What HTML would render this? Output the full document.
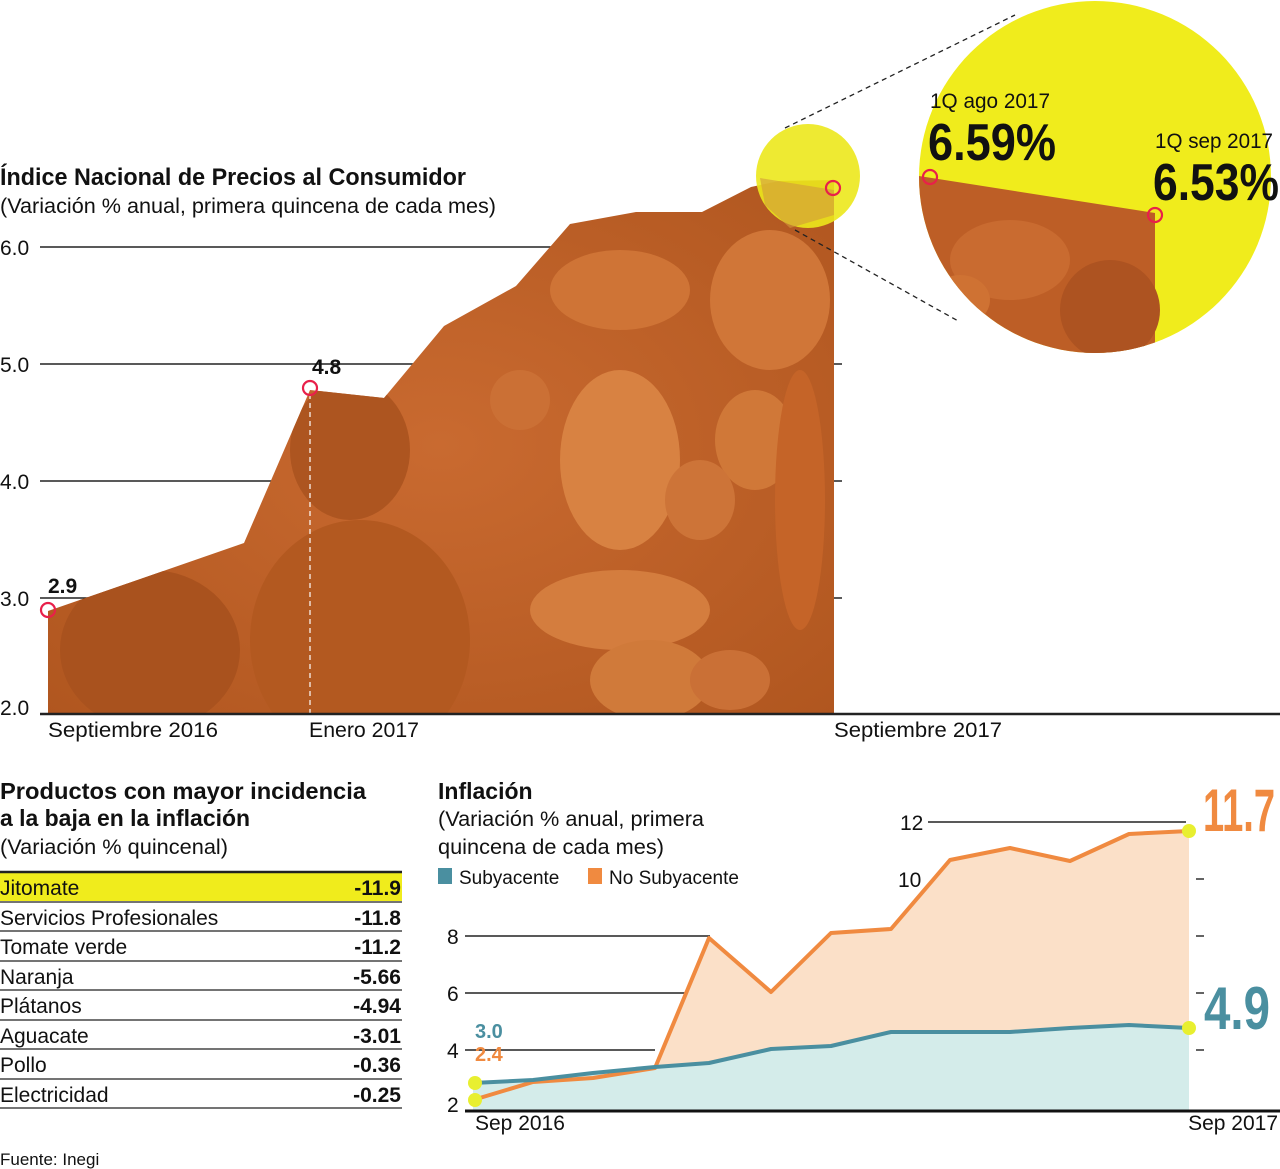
<!DOCTYPE html>
<html><head><meta charset="utf-8"><style>
html,body{margin:0;padding:0;background:#fff;}
svg{display:block;}
text{font-family:"Liberation Sans Narrow","Liberation Sans",sans-serif;fill:#111;}
</style></head><body>
<svg width="1280" height="1169" viewBox="0 0 1280 1169" xmlns="http://www.w3.org/2000/svg">
<defs>
<clipPath id="shape"><polygon points="48,611 244,543 310,390 384,398 444,326 516,286 570,224 636,212 702,212 751,187 779,181 834,180 834,714 48,714"/></clipPath>
<clipPath id="big"><circle cx="1095" cy="177" r="176"/></clipPath>
<radialGradient id="og" cx="0.5" cy="0.5" r="0.7"><stop offset="0" stop-color="#c96a30"/><stop offset="1" stop-color="#b0561f"/></radialGradient>
</defs>
<text x="0" y="185" font-size="24" font-weight="bold" textLength="466" lengthAdjust="spacingAndGlyphs">Índice Nacional de Precios al Consumidor</text>
<text x="0" y="213" font-size="21" textLength="496" lengthAdjust="spacingAndGlyphs">(Variación % anual, primera quincena de cada mes)</text>
<g stroke="#222" stroke-width="1.5">
<line x1="40" y1="247" x2="600" y2="247"/>
<line x1="40" y1="364" x2="420" y2="364"/>
<line x1="40" y1="481" x2="300" y2="481"/>
<line x1="40" y1="598" x2="90" y2="598"/>
<line x1="834" y1="364" x2="842" y2="364"/>
<line x1="834" y1="481" x2="842" y2="481"/>
<line x1="834" y1="598" x2="842" y2="598"/>
</g>
<g clip-path="url(#shape)">
<rect x="40" y="170" width="800" height="550" fill="url(#og)"/>
<ellipse cx="360" cy="640" rx="110" ry="120" fill="#b35920"/>
<ellipse cx="150" cy="650" rx="90" ry="80" fill="#a9521e"/>
<ellipse cx="350" cy="450" rx="60" ry="70" fill="#ad5520"/>
<ellipse cx="620" cy="290" rx="70" ry="40" fill="#cf7436"/>
<ellipse cx="770" cy="300" rx="60" ry="70" fill="#d07638"/>
<ellipse cx="620" cy="460" rx="60" ry="90" fill="#d88242"/>
<ellipse cx="620" cy="610" rx="90" ry="40" fill="#d47d3e"/>
<ellipse cx="755" cy="440" rx="40" ry="50" fill="#d07838"/>
<ellipse cx="700" cy="500" rx="35" ry="40" fill="#cd7438"/>
<ellipse cx="650" cy="680" rx="60" ry="40" fill="#d07a3a"/>
<ellipse cx="730" cy="680" rx="40" ry="30" fill="#ca7036"/>
<ellipse cx="800" cy="500" rx="25" ry="130" fill="#c56428"/>
<ellipse cx="520" cy="400" rx="30" ry="30" fill="#cb7035"/>
</g>
<line x1="310" y1="394" x2="310" y2="714" stroke="#fff" stroke-width="1.2" stroke-dasharray="5,4"/>
<line x1="40" y1="714" x2="1280" y2="714" stroke="#222" stroke-width="2.5"/>
<g font-size="21">
<text x="0" y="255">6.0</text><text x="0" y="372">5.0</text><text x="0" y="489">4.0</text><text x="0" y="606">3.0</text><text x="0" y="715">2.0</text>
</g>
<text x="48" y="737" font-size="21" textLength="170" lengthAdjust="spacingAndGlyphs">Septiembre 2016</text>
<text x="309" y="737" font-size="21" textLength="110" lengthAdjust="spacingAndGlyphs">Enero 2017</text>
<text x="834" y="737" font-size="21" textLength="168" lengthAdjust="spacingAndGlyphs">Septiembre 2017</text>
<text x="48" y="593" font-size="21" font-weight="bold">2.9</text>
<text x="312" y="374" font-size="21" font-weight="bold">4.8</text>
<circle cx="808" cy="176" r="52" fill="#ece81c" opacity="0.9"/>
<polygon points="760,178 834,190 834,215 790,228 765,205" fill="#d29a3a" opacity="0.6"/>
<line x1="785" y1="128" x2="1015" y2="15" stroke="#222" stroke-width="1.3" stroke-dasharray="5,4"/>
<line x1="795" y1="230" x2="960" y2="322" stroke="#222" stroke-width="1.3" stroke-dasharray="5,4"/>
<circle cx="1095" cy="177" r="176" fill="#f0ec1c"/>
<g clip-path="url(#big)">
<polygon points="900,173 1155,213 1155,360 880,360" fill="#bd5e26"/>
<ellipse cx="1010" cy="260" rx="60" ry="40" fill="#c96b30"/>
<ellipse cx="1110" cy="310" rx="50" ry="50" fill="#ad5321"/>
<ellipse cx="960" cy="300" rx="30" ry="25" fill="#cf7233"/>
</g>
<text x="930" y="108" font-size="21" textLength="120" lengthAdjust="spacingAndGlyphs">1Q ago 2017</text>
<text x="928" y="160" font-size="52" font-weight="bold" textLength="128" lengthAdjust="spacingAndGlyphs">6.59%</text>
<text x="1155" y="148" font-size="21" textLength="118" lengthAdjust="spacingAndGlyphs">1Q sep 2017</text>
<text x="1153" y="200" font-size="52" font-weight="bold" textLength="126" lengthAdjust="spacingAndGlyphs">6.53%</text>
<g fill="none" stroke="#e8204a" stroke-width="2.2">
<circle cx="48" cy="610" r="7"/><circle cx="310" cy="388" r="7"/><circle cx="833" cy="188" r="7"/>
<circle cx="930" cy="177" r="7"/><circle cx="1155" cy="215" r="7"/>
</g>
<text x="0" y="799" font-size="23" font-weight="bold" textLength="366" lengthAdjust="spacingAndGlyphs">Productos con mayor incidencia</text>
<text x="0" y="826" font-size="23" font-weight="bold" textLength="250" lengthAdjust="spacingAndGlyphs">a la baja en la inflación</text>
<text x="0" y="854" font-size="21" textLength="228" lengthAdjust="spacingAndGlyphs">(Variación % quincenal)</text>
<rect x="0" y="873" width="402" height="28" fill="#f0ec1c"/>
<g stroke="#222" stroke-width="1.3">
<line x1="0" y1="872" x2="402" y2="872" stroke-width="2.5"/>
<line x1="0" y1="902" x2="402" y2="902"/><line x1="0" y1="931" x2="402" y2="931"/>
<line x1="0" y1="961" x2="402" y2="961"/><line x1="0" y1="990" x2="402" y2="990"/>
<line x1="0" y1="1020" x2="402" y2="1020"/><line x1="0" y1="1049" x2="402" y2="1049"/>
<line x1="0" y1="1079" x2="402" y2="1079"/><line x1="0" y1="1108" x2="402" y2="1108"/>
</g>
<g font-size="21">
<text x="0" y="895">Jitomate</text><text x="0" y="925">Servicios Profesionales</text>
<text x="0" y="954">Tomate verde</text><text x="0" y="984">Naranja</text>
<text x="0" y="1013">Plátanos</text><text x="0" y="1043">Aguacate</text>
<text x="0" y="1072">Pollo</text><text x="0" y="1102">Electricidad</text>
</g>
<g font-size="21" font-weight="bold" text-anchor="end">
<text x="401" y="895">-11.9</text><text x="401" y="925">-11.8</text><text x="401" y="954">-11.2</text>
<text x="401" y="984">-5.66</text><text x="401" y="1013">-4.94</text><text x="401" y="1043">-3.01</text>
<text x="401" y="1072">-0.36</text><text x="401" y="1102">-0.25</text>
</g>
<text x="0" y="1165" font-size="17">Fuente: Inegi</text>
<text x="438" y="799" font-size="23" font-weight="bold">Inflación</text>
<text x="438" y="826" font-size="21" textLength="266" lengthAdjust="spacingAndGlyphs">(Variación % anual, primera</text>
<text x="438" y="854" font-size="21" textLength="226" lengthAdjust="spacingAndGlyphs">quincena de cada mes)</text>
<rect x="438" y="868" width="14" height="16" fill="#4a8fa0"/>
<text x="459" y="884" font-size="19">Subyacente</text>
<rect x="588" y="868" width="14" height="16" fill="#f08a40"/>
<text x="609" y="884" font-size="19">No Subyacente</text>
<g stroke="#222" stroke-width="1.4">
<line x1="928" y1="822" x2="1186" y2="822"/>
<line x1="465" y1="936" x2="710" y2="936"/>
<line x1="465" y1="993" x2="690" y2="993"/>
<line x1="465" y1="1050" x2="655" y2="1050"/>
<line x1="1196" y1="879" x2="1204" y2="879"/><line x1="1196" y1="936" x2="1204" y2="936"/>
<line x1="1196" y1="993" x2="1204" y2="993"/><line x1="1196" y1="1050" x2="1204" y2="1050"/>
</g>
<polygon points="473,1100 533,1082 593,1078 655,1068 709,938 771,992 831,933 891,929 950,860 1010,848 1070,861 1129,834 1189,831 1189,1110 473,1110" fill="#fbe0c8"/>
<polygon points="473,1083 533,1080 593,1073 655,1067 709,1063 771,1049 831,1046 891,1032 950,1032 1010,1032 1070,1028 1129,1025 1189,1028 1189,1110 473,1110" fill="#d4ecea"/>
<polyline points="473,1100 533,1082 593,1078 655,1068 709,938 771,992 831,933 891,929 950,860 1010,848 1070,861 1129,834 1189,831" fill="none" stroke="#f08a40" stroke-width="4" stroke-linejoin="round"/>
<polyline points="473,1083 533,1080 593,1073 655,1067 709,1063 771,1049 831,1046 891,1032 950,1032 1010,1032 1070,1028 1129,1025 1189,1028" fill="none" stroke="#4a8fa0" stroke-width="4" stroke-linejoin="round"/>
<g fill="#e8ef30"><circle cx="475" cy="1083" r="7"/><circle cx="475" cy="1100" r="7"/><circle cx="1189" cy="831" r="7"/><circle cx="1189" cy="1028" r="7"/></g>
<line x1="465" y1="1111" x2="1280" y2="1111" stroke="#111" stroke-width="3"/>
<g font-size="21">
<text x="900" y="830">12</text><text x="898" y="887">10</text><text x="447" y="944">8</text>
<text x="447" y="1001">6</text><text x="447" y="1058">4</text><text x="447" y="1112">2</text>
</g>
<text x="475" y="1038" font-size="20" font-weight="bold" style="fill:#4a8fa0">3.0</text>
<text x="475" y="1061" font-size="20" font-weight="bold" style="fill:#f08a40">2.4</text>
<text x="1203" y="831" font-size="60" font-weight="bold" textLength="72" lengthAdjust="spacingAndGlyphs" style="fill:#f08a40">11.7</text>
<text x="1204" y="1029" font-size="60" font-weight="bold" textLength="66" lengthAdjust="spacingAndGlyphs" style="fill:#4a8fa0">4.9</text>
<text x="475" y="1130" font-size="21">Sep 2016</text>
<text x="1278" y="1130" font-size="21" text-anchor="end">Sep 2017</text>
</svg>
</body></html>
